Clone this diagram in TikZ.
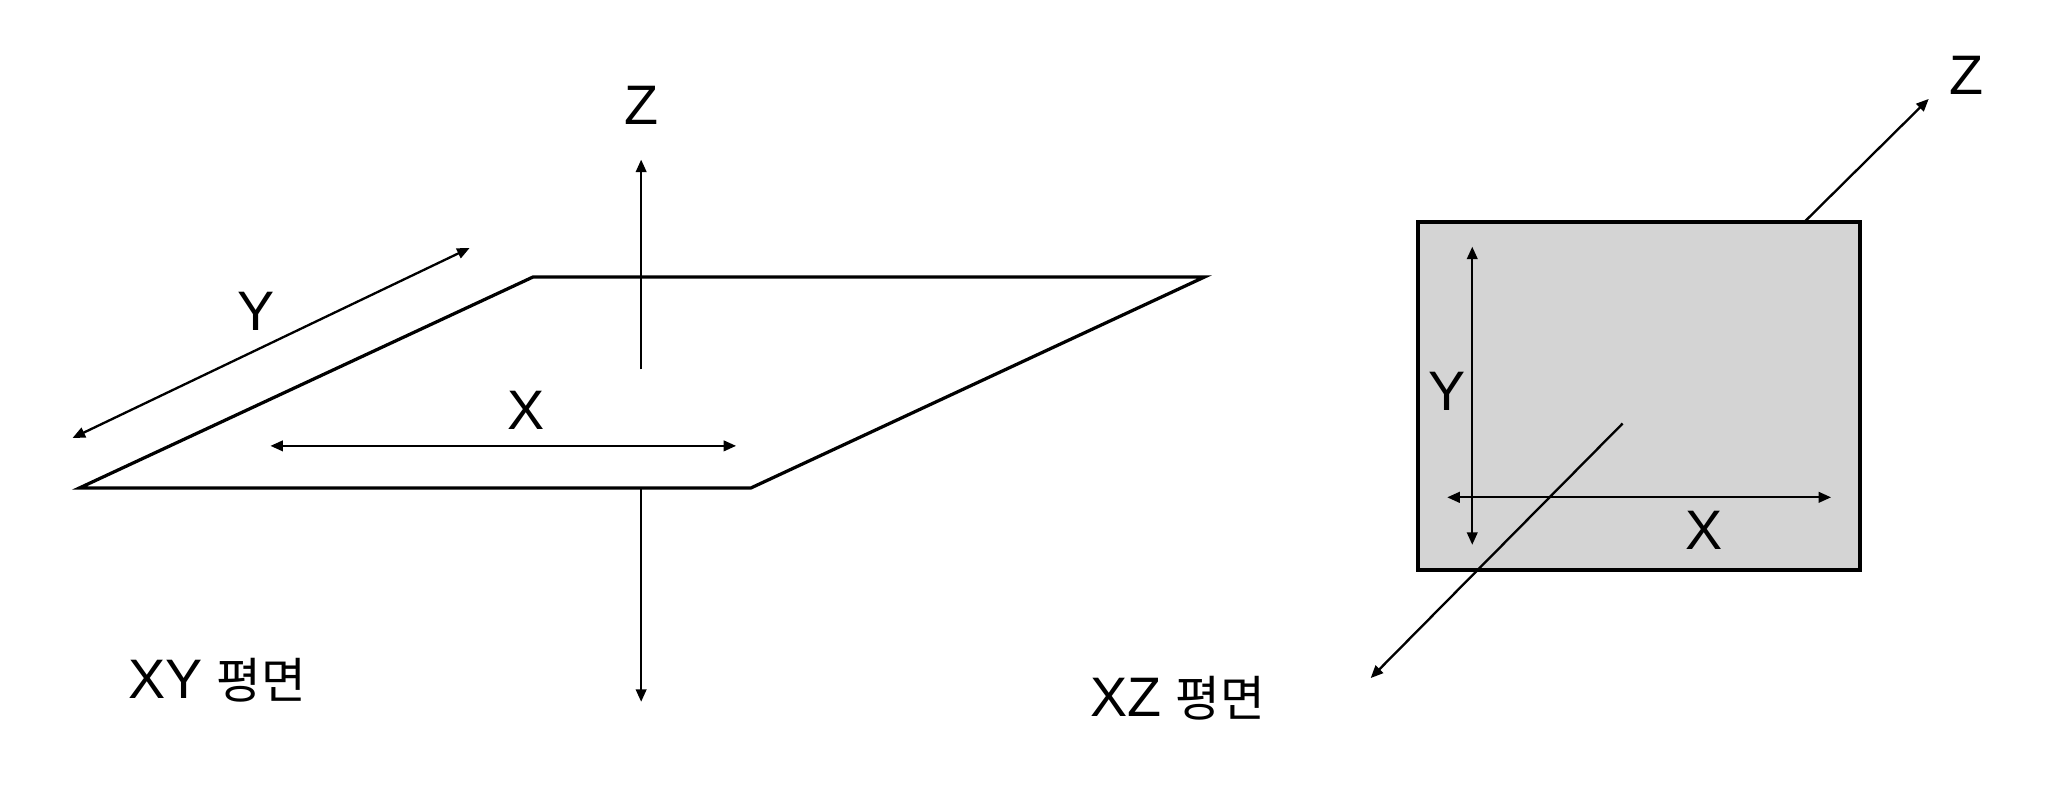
\documentclass[tikz,border=0pt]{standalone}
\usepackage{fontspec}
\setmainfont{Liberation Sans}
\newfontfamily\krfont{Noto Sans CJK KR}
\usetikzlibrary{arrows.meta}
\definecolor{planegray}{HTML}{D4D4D4}
\newcommand{\pyeongmyeon}{{\krfont\fontsize{10.5}{12}\selectfont 평면}}
\begin{document}
\begin{tikzpicture}[x=0.01cm,y=-0.01cm,
    every node/.style={font=\fontsize{12}{14}\selectfont,inner sep=0pt},
    edge/.style={line width=0.7pt,line join=miter},
    axis/.style={line width=0.5pt,-{Triangle[length=0.95mm,width=0.8mm]}},
    dimline/.style={line width=0.5pt,{Triangle[length=0.95mm,width=0.8mm]}-{Triangle[length=0.95mm,width=0.8mm]}}]
    \useasboundingbox (0,0) rectangle (1560,608.7);

    % XY plane
    \coordinate (p1) at (60,370);
    \coordinate (p2) at (569,370);
    \coordinate (p3) at (913,210);
    \coordinate (p4) at (404,210);
    \draw[edge] (p1) -- (p2) -- (p3) -- (p4) -- cycle;

    \coordinate (zup0) at (486,280);
    \coordinate (zup1) at (486,121);
    \coordinate (zdn0) at (486,371);
    \coordinate (zdn1) at (486,532);
    \draw[axis] (zup0) -- (zup1);
    \draw[axis] (zdn0) -- (zdn1);
    \node (zl) at (486,80) {Z};

    \coordinate (ya) at (55,332);
    \coordinate (yb) at (356,188);
    \draw[dimline] (ya) -- (yb);
    \node (yl) at (194,236) {Y};

    \coordinate (xa) at (205,338);
    \coordinate (xb) at (558,338);
    \draw[dimline] (xa) -- (xb);
    \node (xl) at (399,311) {X};

    \node (xyname) at (165,516) {XY\hspace{0.25em}\pyeongmyeon};

    % XZ plane
    \draw[line width=0.85pt,fill=planegray] (1075,168) rectangle (1410,432);

    \coordinate (zr0) at (1230,321);
    \coordinate (zr1) at (1039,514);
    \coordinate (zr2) at (1368,168);
    \coordinate (zr3) at (1462,75);
    \draw[axis] (zr0) -- (zr1);
    \draw[axis] (zr2) -- (zr3);
    \node (zrl) at (1491,57) {Z};

    \coordinate (yra) at (1116,413);
    \coordinate (yrb) at (1116,187);
    \draw[dimline] (yra) -- (yrb);
    \node (yrl) at (1097,297) {Y};

    \coordinate (xra) at (1097,377);
    \coordinate (xrb) at (1388,377);
    \draw[dimline] (xra) -- (xrb);
    \node (xrl) at (1292,402) {X};

    \node (xzname) at (893,529) {XZ\hspace{0.25em}\pyeongmyeon};
\end{tikzpicture}
\end{document}
